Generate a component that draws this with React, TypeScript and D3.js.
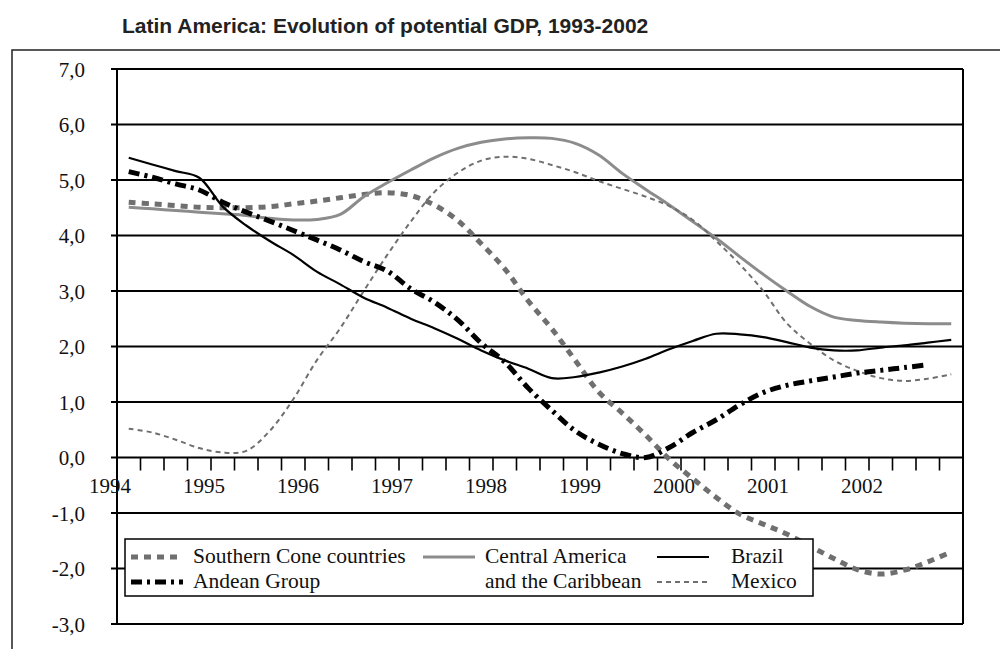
import React from "react";
import * as d3 from "d3";

const title = "Latin America: Evolution of potential GDP, 1993-2002";
const yearLabels = ["1994", "1995", "1996", "1997", "1998", "1999", "2000", "2001", "2002"];
const quarterNames = ["Q1", "Q2", "Q3", "Q4"];
const categories = yearLabels.flatMap((yr) => quarterNames.map((q) => `${yr}${q}`));
const yTicks = [7, 6, 5, 4, 3, 2, 1, 0, -1, -2, -3];

const southernCone = [4.6, 4.57, 4.54, 4.51, 4.5, 4.5, 4.52, 4.57, 4.62, 4.68, 4.74, 4.77,
  4.72, 4.55, 4.27, 3.85, 3.4, 2.82, 2.32, 1.75, 1.18, 0.8, 0.4, -0.03,
  -0.38, -0.72, -1.02, -1.2, -1.38, -1.6, -1.82, -2.02, -2.1, -2.03, -1.88, -1.7];
const centralAmerica = [4.51, 4.48, 4.45, 4.42, 4.39, 4.36, 4.31, 4.28, 4.29, 4.38, 4.7, 4.95,
  5.18, 5.4, 5.57, 5.68, 5.74, 5.76, 5.75, 5.66, 5.45, 5.12, 4.83, 4.55,
  4.25, 3.95, 3.62, 3.3, 3.0, 2.72, 2.53, 2.47, 2.44, 2.42, 2.41, 2.41];
const brazil = [5.4, 5.28, 5.16, 5.04, 4.52, 4.18, 3.9, 3.65, 3.35, 3.12, 2.88, 2.7,
  2.5, 2.33, 2.14, 1.93, 1.75, 1.6, 1.43, 1.45, 1.53, 1.64, 1.78, 1.95,
  2.1, 2.23, 2.22, 2.17, 2.08, 1.98, 1.93, 1.93, 1.98, 2.02, 2.07, 2.12];
const andeanGroup = [5.15, 5.05, 4.93, 4.82, 4.6, 4.42, 4.26, 4.09, 3.92, 3.74, 3.53, 3.36,
  3.04, 2.8, 2.48, 2.06, 1.72, 1.25, 0.85, 0.48, 0.24, 0.07, 0.0, 0.18,
  0.45, 0.68, 0.95, 1.17, 1.3, 1.38, 1.45, 1.52, 1.57, 1.62, 1.67];
const mexico = [0.52, 0.45, 0.32, 0.17, 0.09, 0.12, 0.48, 1.05, 1.75, 2.33, 3.0, 3.65,
  4.25, 4.78, 5.13, 5.35, 5.42, 5.38, 5.27, 5.14, 4.98, 4.84, 4.7, 4.53,
  4.28, 3.9, 3.48, 3.0, 2.42, 2.05, 1.75, 1.56, 1.43, 1.38, 1.42, 1.5];

const seriesList = [
  { name: "Southern Cone countries", values: southernCone, color: "#6f6f6f", width: 5, dash: "7,6" },
  { name: "Central America", values: centralAmerica, color: "#8c8c8c", width: 3, dash: "" },
  { name: "Mexico", values: mexico, color: "#6f6f6f", width: 2, dash: "5,4" },
  { name: "Andean Group", values: andeanGroup, color: "#000", width: 5, dash: "11,5,3,5" },
  { name: "Brazil", values: brazil, color: "#000", width: 2.2, dash: "" },
];

const serif = "Liberation Serif, Tinos, Times New Roman, DejaVu Serif, serif";
const sans = "Liberation Sans, Arimo, Arial, sans-serif";

export default function App() {
  const x = d3.scaleLinear().domain([0, categories.length]).range([117, 963]);
  const y = d3.scaleLinear().domain([-3, 7]).range([624, 69]);
  const line = d3
    .line<number>()
    .x((_, i) => x(i + 0.5))
    .y((d) => y(d))
    .curve(d3.curveCatmullRom.alpha(0.5));

  const tickIdx = d3.range(1, categories.length);
  const tickStyle = { fontFamily: serif, fontSize: 21 };
  const legendStyle = { fontFamily: serif, fontSize: 21.5 };

  const legendRows = [
    [
      { label: ["Southern Cone countries"], s: seriesList[0], sx: 131, tx: 193 },
      { label: ["Central America", "and the Caribbean"], s: seriesList[1], sx: 423, tx: 485 },
      { label: ["Brazil"], s: seriesList[4], sx: 657, tx: 731 },
    ],
    [
      { label: ["Andean Group"], s: seriesList[3], sx: 131, tx: 193 },
      { label: ["Mexico"], s: seriesList[2], sx: 657, tx: 731 },
    ],
  ];

  return (
    <svg width={1000} height={649} style={{ position: "absolute", left: 0, top: 0, background: "#fff" }}>
      <rect x={0} y={0} width={1000} height={649} fill="#fff" />
      <text x={122} y={33} style={{ fontFamily: sans, fontWeight: "bold", fontSize: 21 }} fill="#222">
        {title}
      </text>
      <rect x={12} y={50} width={1100} height={700} fill="none" stroke="#222" strokeWidth={1.5} />

      {/* gridlines */}
      {yTicks.map((t) => (
        <g key={t}>
          <line x1={111} x2={963} y1={y(t)} y2={y(t)} stroke="#000" strokeWidth={2} />
          <text x={85} y={y(t)} dy="0.36em" textAnchor="end" style={tickStyle} fill="#111">
            {d3.format(".1f")(t).replace(".", ",").replace("−", "-")}
          </text>
        </g>
      ))}
      <line x1={117} x2={117} y1={y(7)} y2={y(-3)} stroke="#000" strokeWidth={2} />
      <line x1={963} x2={963} y1={y(7)} y2={y(-3)} stroke="#000" strokeWidth={2} />

      {/* x ticks */}
      {tickIdx.map((i) => (
        <line key={i} x1={x(i)} x2={x(i)} y1={y(0)} y2={y(0) + 13} stroke="#000" strokeWidth={1.6} />
      ))}
      {yearLabels.map((yr, k) => (
        <text key={yr} x={x(k * 4) - 7} y={493} textAnchor="middle" style={tickStyle} fill="#111">
          {yr}
        </text>
      ))}

      {/* series */}
      {seriesList.map((s) => (
        <path
          key={s.name}
          d={line(s.values) || ""}
          fill="none"
          stroke={s.color}
          strokeWidth={s.width}
          strokeDasharray={s.dash || undefined}
        />
      ))}

      {/* legend */}
      <rect x={125} y={539} width={688} height={57} fill="#fff" stroke="#000" strokeWidth={1.5} />
      {legendRows.map((row, r) =>
        row.map((item) => (
          <g key={item.label[0]}>
            <line
              x1={item.sx}
              x2={item.sx + 52}
              y1={557 + r * 25}
              y2={557 + r * 25}
              stroke={item.s.color}
              strokeWidth={item.s.width}
              strokeDasharray={item.s.dash || undefined}
            />
            {item.label.map((l, j) => (
              <text key={l} x={item.tx} y={563 + (r + j) * 25} style={legendStyle} fill="#111">
                {l}
              </text>
            ))}
          </g>
        ))
      )}
    </svg>
  );
}
